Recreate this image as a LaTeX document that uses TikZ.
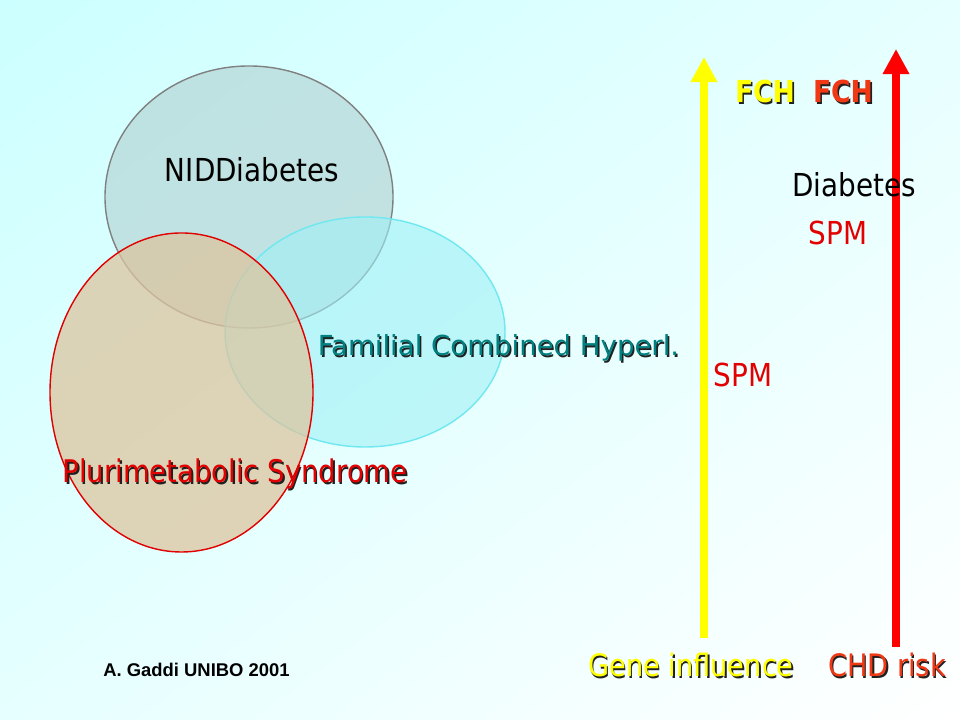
\documentclass[tikz,border=0pt]{standalone}
\usepackage{fontspec}
\usetikzlibrary{arrows.meta,shadings}
\newfontfamily\tahomafont[FakeStretch=0.88]{DejaVu Sans}
\newfontfamily\verdanafont{DejaVu Sans}
\newfontfamily\arialfont{Liberation Sans}
\definecolor{BackClr}{RGB}{204,255,255}
\definecolor{EdgeClr}{RGB}{230,255,255}
\definecolor{GrayFillClr}{RGB}{176,208,208}
\definecolor{GrayLineClr}{RGB}{128,128,128}
\definecolor{CyanFillClr}{RGB}{160,240,245}
\definecolor{CyanLineClr}{RGB}{112,232,240}
\definecolor{TanFillClr}{RGB}{220,197,160}
\definecolor{RedLineClr}{RGB}{224,0,0}
\definecolor{TealClr}{RGB}{0,128,128}
\definecolor{YellowClr}{RGB}{255,255,0}
\definecolor{RedClr}{RGB}{226,0,0}
\definecolor{OrangeRedClr}{RGB}{240,56,20}
\definecolor{ArrowRedClr}{RGB}{255,0,0}
\definecolor{ShadowClr}{RGB}{32,32,32}

\newcommand{\ShadowLabel}[5]{%
  \node[lbl,font=#3,text=ShadowClr,xshift=1.1pt,yshift=-1.1pt] (#1Shd) at (#2) {#5};
  \node[lbl,font=#3,text=#4] (#1) at (#2) {#5};}

\begin{document}
\begin{tikzpicture}[x=0.025cm,y=0.025cm,
  lbl/.style={inner sep=0pt,anchor=base},
  bigfont/.style={font={\tahomafont\fontsize{22.5pt}{27pt}\selectfont}},
  riskarrow/.style={line width=5pt,-{Triangle[width=17.8pt,length=17.8pt]}}]

% background
\shade[upper left=BackClr,upper right=EdgeClr,lower left=EdgeClr,lower right=white]
  (0,0) rectangle (960,720);
\path[use as bounding box] (0,0) rectangle (960,720);

% the three sets
\filldraw[fill=GrayFillClr,fill opacity=0.6,draw=GrayLineClr,line width=1pt]
  (249,523) ellipse [x radius=144,y radius=131];
\filldraw[fill=CyanFillClr,fill opacity=0.6,draw=CyanLineClr,line width=1pt]
  (365,388) ellipse [x radius=140,y radius=115];
\filldraw[fill=TanFillClr,fill opacity=0.75,draw=RedLineClr,line width=1pt]
  (181.5,327.5) ellipse [x radius=131.5,y radius=159.5];

\node[lbl,bigfont,text=black] (nidd) at (252,538) {NIDDiabetes};
\ShadowLabel{fch}{498.5,364}{{\verdanafont\fontsize{19.6pt}{24pt}\selectfont}}{TealClr}{Familial Combined Hyperl.}
\ShadowLabel{pms}{235,237}{{\tahomafont\fontsize{22.2pt}{27pt}\selectfont}}{RedClr}{Plurimetabolic Syndrome}

% the two scales
\coordinate (geneBot) at (704,82);
\coordinate (geneTop) at (704,663);
\coordinate (riskBot) at (896,73);
\coordinate (riskTop) at (896,671);
\draw[riskarrow,YellowClr] (geneBot) -- (geneTop);
\draw[riskarrow,ArrowRedClr] (riskBot) -- (riskTop);

\ShadowLabel{fchGene}{765,617}{{\tahomafont\bfseries\fontsize{21.5pt}{26pt}\selectfont}}{YellowClr}{FCH}
\ShadowLabel{fchRisk}{843,617}{{\tahomafont\bfseries\fontsize{21.5pt}{26pt}\selectfont}}{OrangeRedClr}{FCH}
\node[lbl,bigfont,text=black] (diab) at (854,523) {Diabetes};
\node[lbl,bigfont,text=RedClr] (spmRisk) at (838,475) {SPM};
\node[lbl,bigfont,text=RedClr] (spmGene) at (743,333) {SPM};

\ShadowLabel{gene}{691,43}{{\tahomafont\fontsize{22pt}{27pt}\selectfont}}{YellowClr}{Gene influence}
\ShadowLabel{risk}{887,43}{{\tahomafont\fontsize{22pt}{27pt}\selectfont}}{OrangeRedClr}{CHD risk}

\node[lbl,font={\arialfont\bfseries\fontsize{13.1pt}{16pt}\selectfont}] (author) at (196.5,43) {A. Gaddi UNIBO 2001};

\end{tikzpicture}
\end{document}
